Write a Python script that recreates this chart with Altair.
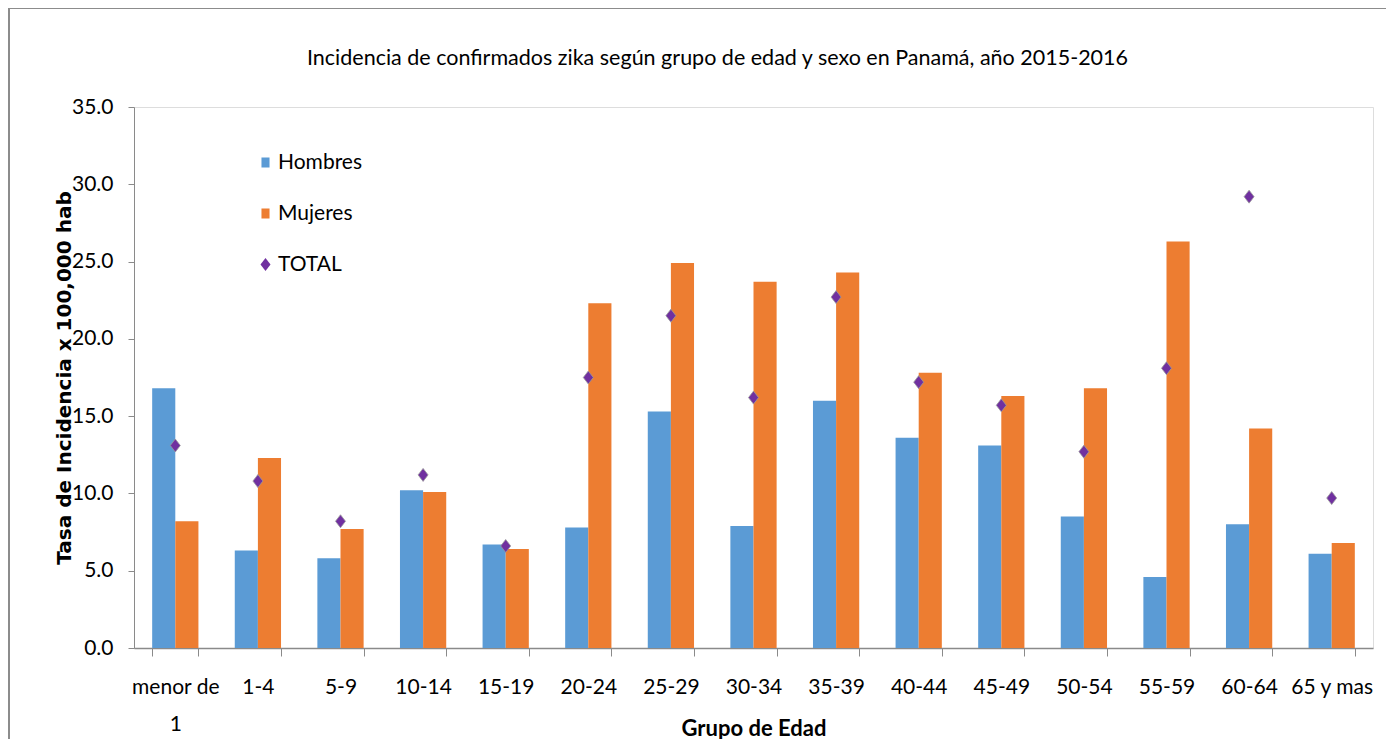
import altair as alt
import pandas as pd

grupos = ["menor de 1", "1-4", "5-9", "10-14", "15-19", "20-24", "25-29", "30-34",
          "35-39", "40-44", "45-49", "50-54", "55-59", "60-64", "65 y mas"]
hombres = [16.8, 6.3, 5.8, 10.2, 6.7, 7.8, 15.3, 7.9, 16.0, 13.6, 13.1, 8.5, 4.6, 8.0, 6.1]
mujeres = [8.2, 12.3, 7.7, 10.1, 6.4, 22.3, 24.9, 23.7, 24.3, 17.8, 16.3, 16.8, 26.3, 14.2, 6.8]
total = [13.1, 10.8, 8.2, 11.2, 6.6, 17.5, 21.5, 16.2, 22.7, 17.2, 15.7, 12.7, 18.1, 29.2, 9.7]
series = ["Hombres", "Mujeres", "TOTAL"]
colores = ["#5B9BD5", "#ED7D31", "#7030A0"]
y_ticks = [0, 5, 10, 15, 20, 25, 30, 35]

titulo = "Incidencia de confirmados zika según grupo de edad y sexo en Panamá, año 2015-2016"

bars_df = pd.DataFrame(
    [{"grupo": g, "serie": "Hombres", "valor": v} for g, v in zip(grupos, hombres)]
    + [{"grupo": g, "serie": "Mujeres", "valor": v} for g, v in zip(grupos, mujeres)]
)
pts_df = pd.DataFrame([{"grupo": g, "serie": "TOTAL", "valor": v} for g, v in zip(grupos, total)])

FONT = "Lato, sans-serif"
SQUARE = "M-0.62,-0.77L0.62,-0.77L0.62,0.77L-0.62,0.77Z"
DIAMOND = "M0,-1L0.77,0L0,1L-0.77,0Z"

W, H = 1239, 541

x_enc = alt.X(
    "grupo:N",
    sort=grupos,
    scale=alt.Scale(paddingInner=0.44, paddingOuter=0.22),
    axis=alt.Axis(
        title="Grupo de Edad",
        labelAngle=0,
        tickBand="extent",
        tickSize=8,
        tickColor="#8a8a8a",
        domainColor="#8a8a8a",
        domainWidth=1.5,
        labelFont=FONT,
        labelFontSize=21,
        labelColor="#000000",
        labelPadding=20,
        labelLineHeight=37,
        labelExpr="datum.label == 'menor de 1' ? ['menor de', '1'] : datum.label",
        titleFont=FONT,
        titleFontSize=22,
        titleFontWeight="bold",
        titleColor="#000000",
        titleY=87,
        titleBaseline="alphabetic",
    ),
)

y_enc = alt.Y(
    "valor:Q",
    scale=alt.Scale(domain=[0, 35], nice=False),
    axis=alt.Axis(
        title="Tasa de Incidencia x 100,000 hab",
        values=y_ticks,
        format=".1f",
        grid=False,
        tickSize=6,
        tickColor="#8a8a8a",
        domainColor="#8a8a8a",
        labelFont=FONT,
        labelFontSize=21,
        labelColor="#000000",
        labelPadding=15,
        titleFont="DejaVu Sans, sans-serif",
        titleFontSize=20,
        titleFontWeight="bold",
        titleColor="#000000",
        titleX=-70,
        titleBaseline="middle",
    ),
)

legend = alt.Legend(
    title=None,
    orient="none",
    legendX=121,
    legendY=45,
    labelFont=FONT,
    labelFontSize=21,
    labelColor="#000000",
    labelOffset=2,
    rowPadding=29,
    symbolSize=169,
    symbolStrokeWidth=0,
)

color_enc = alt.Color("serie:N", scale=alt.Scale(domain=series, range=colores), legend=legend)

bars = alt.Chart(bars_df).mark_bar().encode(
    x=x_enc,
    xOffset=alt.XOffset("serie:N", sort=["Hombres", "Mujeres"],
                        scale=alt.Scale(domain=["Hombres", "Mujeres"], paddingInner=0, paddingOuter=0)),
    y=y_enc,
    color=color_enc,
)

points = alt.Chart(pts_df).mark_point(filled=True, size=169, stroke="#9a9a9a", strokeWidth=0.8, opacity=1).encode(
    x=alt.X("grupo:N", sort=grupos),
    y=alt.Y("valor:Q"),
    color=alt.Color("serie:N", scale=alt.Scale(domain=series, range=colores), legend=legend),
    shape=alt.Shape("serie:N", scale=alt.Scale(domain=series, range=[SQUARE, SQUARE, DIAMOND]), legend=legend),
)

border_df = pd.DataFrame({"k": ["b"]})
border_top = alt.Chart(border_df).mark_rule(color="#8c8c8c", strokeWidth=2).encode(
    x=alt.value(-126), x2=alt.value(W + 30), y=alt.value(-99)
)
border_left = alt.Chart(border_df).mark_rule(color="#8c8c8c", strokeWidth=2).encode(
    x=alt.value(-125), y=alt.value(-100), y2=alt.value(H + 100)
)

chart = alt.layer(bars, points, border_top, border_left).properties(
    width=W,
    height=H,
    padding={"left": 126, "top": 99, "right": 13, "bottom": 91},
    autosize=alt.AutoSizeParams(type="none"),
    title=alt.TitleParams(
        text=titulo,
        font=FONT,
        fontSize=21.5,
        fontWeight="normal",
        color="#000000",
        anchor="middle",
        baseline="alphabetic",
        offset=0,
        dx=-36,
        dy=80,
    ),
).configure_view(stroke=None).configure(background="white")

chart.save("out.html", embed_options={"renderer": "svg", "actions": False})
